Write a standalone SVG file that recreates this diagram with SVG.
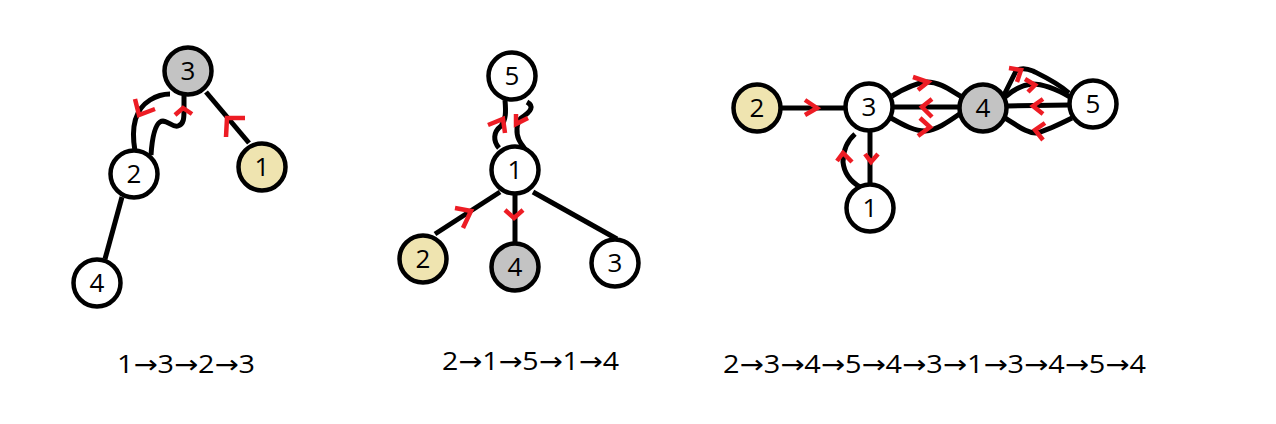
<svg xmlns="http://www.w3.org/2000/svg" width="1276" height="424" viewBox="0 0 1276 424">
<style>
.n{stroke:#000;stroke-width:4.5}
.w{fill:#fff}.y{fill:#efe4b0}.g{fill:#c3c3c3}
.lbl{font-family:"Open Sans","Noto Sans","DejaVu Sans",sans-serif;font-size:26px;fill:#000;text-anchor:middle}
.cap{font-family:"Open Sans","Noto Sans","DejaVu Sans",sans-serif;font-size:25px;fill:#000}
.e{fill:none;stroke:#000;stroke-width:5;stroke-linecap:butt;stroke-linejoin:round}
.a{fill:none;stroke:#ed1c24;stroke-width:4.5;stroke-linecap:butt;stroke-linejoin:miter}
</style>
<rect width="1276" height="424" fill="#fff"/>
<g id="connectors">
<!-- panel 1 -->
<line class="e" x1="206" y1="92" x2="249" y2="143"/>
<line class="e" x1="122" y1="197" x2="105" y2="259"/>
<path class="e" d="M135,151 C131,128 134,110 150,100 C158,95 165,94 170,94"/>
<path class="e" d="M151,155 C152,140 154,126 160,122 C166,118 172,128 178,126 C184,124 184,118 184,110 L184,96"/>
<!-- panel 2 -->
<line class="e" x1="500" y1="192" x2="435" y2="234"/>
<line class="e" x1="515" y1="195" x2="515" y2="243"/>
<line class="e" x1="533" y1="192" x2="617" y2="239"/>
<path class="e" d="M499,148 C493,141 493,132 501,126 C506,120 506,112 505,100"/>
<path class="e" d="M527,102 C534,106 532,111 521,118 C516,123 516,134 519,140 C521,144 523,146 525,149"/>
<!-- panel 3 -->
<line class="e" x1="781" y1="108" x2="845" y2="108"/>
<line class="e" x1="893" y1="107" x2="959" y2="107"/>
<path class="e" d="M892,96 C905,88 915,83 927,82 C940,82 950,90 962,97"/>
<path class="e" d="M891,118 C905,126 915,131 925,131 C937,130 948,122 961,113"/>
<line class="e" x1="1007" y1="106" x2="1070" y2="105"/>
<path class="e" d="M1005,118 C1018,126 1028,134 1037,133 C1048,130 1060,124 1072,118"/>
<path class="e" d="M1005,97 C1013,90 1022,85 1032,84 C1045,84 1058,90 1070,97"/>
<path class="e" d="M1004,95 L1016,71 C1020,68 1026,68 1033,71 C1045,77 1058,83 1069,93"/>
<line class="e" x1="870" y1="131" x2="870" y2="184"/>
<path class="e" d="M855,134 C846,142 843,152 843,162 C844,172 850,181 860,187"/>
<!-- arrowheads -->
<path class="a" d="M245,118 L227,118 L226,137"/>
<path class="a" d="M135,99 L139,115 L155,109"/>
<path class="a" d="M175,115 L183,108 L192,114"/>
<path class="a" d="M488,125 L503,119 L505,133"/>
<path class="a" d="M516,114 L516,124 L528,118"/>
<path class="a" d="M455,208 L471,211 L463,228"/>
<path class="a" d="M505,210 L514,218 L523,210"/>
<path class="a" d="M805,100 L817,108 L805,115"/>
<path class="a" d="M932,99 L922,107 L932,117"/>
<path class="a" d="M913,77 L928,82 L918,90"/>
<path class="a" d="M920,118 L930,127 L918,136"/>
<path class="a" d="M1043,99 L1033,106 L1043,114"/>
<path class="a" d="M1045,123 L1035,130 L1043,140"/>
<path class="a" d="M1025,79 L1035,85 L1028,92"/>
<path class="a" d="M1009,68 L1021,70 L1017,82"/>
<path class="a" d="M865,154 L871,162 L878,154"/>
<path class="a" d="M837,161 L843,153 L852,162"/>
</g>
<!-- panel 1 nodes -->
<g id="p1-n3"><circle class="n g" cx="188" cy="71" r="23.5"/><text class="lbl" x="188" y="80">3</text></g>
<g id="p1-n2"><circle class="n w" cx="134" cy="174" r="23.5"/><text class="lbl" x="134" y="183">2</text></g>
<g id="p1-n1"><circle class="n y" cx="262" cy="167" r="23.5"/><text class="lbl" x="262" y="176">1</text></g>
<g id="p1-n4"><circle class="n w" cx="97" cy="283" r="23.5"/><text class="lbl" x="97" y="292">4</text></g>
<!-- panel 2 nodes -->
<g id="p2-n5"><circle class="n w" cx="512" cy="76" r="23.5"/><text class="lbl" x="512" y="85">5</text></g>
<g id="p2-n1"><circle class="n w" cx="515" cy="170" r="23.5"/><text class="lbl" x="515" y="179">1</text></g>
<g id="p2-n2"><circle class="n y" cx="423" cy="259" r="23.5"/><text class="lbl" x="423" y="268">2</text></g>
<g id="p2-n4"><circle class="n g" cx="515" cy="267" r="23.5"/><text class="lbl" x="515" y="276">4</text></g>
<g id="p2-n3"><circle class="n w" cx="615" cy="263" r="23.5"/><text class="lbl" x="615" y="272">3</text></g>
<!-- panel 3 nodes -->
<g id="p3-n2"><circle class="n y" cx="757" cy="108" r="23.5"/><text class="lbl" x="757" y="117">2</text></g>
<g id="p3-n3"><circle class="n w" cx="869" cy="107" r="23.5"/><text class="lbl" x="869" y="116">3</text></g>
<g id="p3-n4"><circle class="n g" cx="983" cy="108" r="23.5"/><text class="lbl" x="983" y="117">4</text></g>
<g id="p3-n5"><circle class="n w" cx="1093" cy="104" r="23.5"/><text class="lbl" x="1093" y="113">5</text></g>
<g id="p3-n1"><circle class="n w" cx="870" cy="208" r="23.5"/><text class="lbl" x="870" y="217">1</text></g>
<!-- captions -->
<g id="captions">
<text class="cap" x="117" y="373" textLength="138" lengthAdjust="spacingAndGlyphs">1→3→2→3</text>
<text class="cap" x="442" y="370" textLength="177" lengthAdjust="spacingAndGlyphs">2→1→5→1→4</text>
<text class="cap" x="723" y="373" textLength="423" lengthAdjust="spacingAndGlyphs">2→3→4→5→4→3→1→3→4→5→4</text>
</g>
</svg>
